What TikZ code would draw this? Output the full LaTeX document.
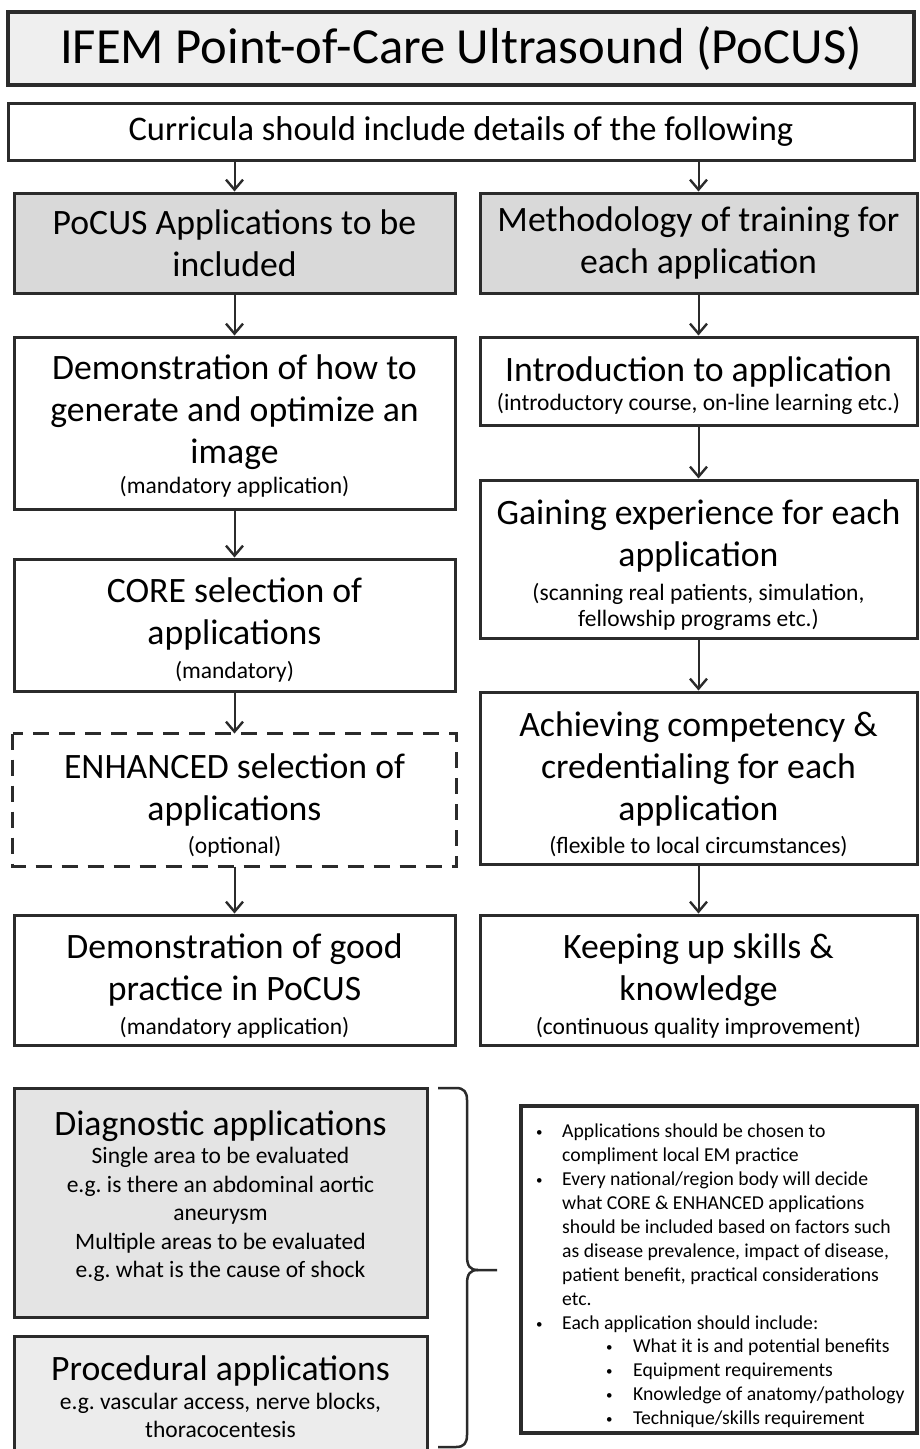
\documentclass[tikz,border=0pt]{standalone}
\usepackage{fontspec}
\setmainfont{Carlito}
\usetikzlibrary{arrows.meta}
\frenchspacing
\definecolor{bordc}{HTML}{2B2B2B}
\definecolor{titlec}{HTML}{EFEFEF}
\definecolor{headc}{HTML}{D9D9D9}
\definecolor{diagc}{HTML}{E4E4E4}
\definecolor{procc}{HTML}{ECECEC}
\newcommand\mysub{\fontsize{23.5}{26.5}\selectfont}
\newcommand\mydiag{\fontsize{23.5}{28.6}\selectfont}
\newcommand\mybul{\raisebox{1pt}{\fontsize{13}{13}\selectfont\textbullet}}
\newcommand\shiftdn[1]{\par\vskip-#1pt\hrule height 0pt width 0pt\relax}
\begin{document}
\begin{tikzpicture}[x=1pt,y=-1pt,
  box/.style={draw=bordc, line width=3pt, inner sep=0pt, align=flush center,
    font=\fontsize{35.7}{42}\selectfont},
  lbox/.style={box, minimum width=441pt, text width=436pt},
  rbox/.style={box, minimum width=437pt, text width=432pt},
  arr/.style={draw=bordc, line width=2pt,
    -{Straight Barb[length=10pt,width=17pt,line width=2.4pt]}},
]
\useasboundingbox (0,0) rectangle (920,1449);
\fill[white] (0,0) rectangle (920,1449);

% header
\node[box, line width=3.5pt, fill=titlec, minimum width=906pt, minimum height=73pt, text width=900pt,
  font=\fontsize{50.6}{56}\selectfont] (title) at (461,48.5) {IFEM Point-of-Care Ultrasound (PoCUS)};
\node[box, minimum width=906pt, minimum height=57pt, text width=900pt,
  font=\fontsize{34.5}{40}\selectfont] (curr) at (461,131.5) {Curricula should include details of the following};

% left column
\node[lbox, fill=headc, minimum height=100pt] (pocus) at (234.5,243) {PoCUS Applications to be\\ included};
\node[lbox, minimum height=172pt] (demo) at (234.5,423) {Demonstration of how to\\ generate and optimize an\\ image\\[4pt] {\mysub (mandatory application)\par}\shiftdn{6}};
\node[lbox, minimum height=132pt] (core) at (234.5,625) {CORE selection of\\ applications\\[7pt] {\mysub (mandatory)\par}\shiftdn{10}};
\node[lbox, draw=none, minimum height=130pt] (enh) at (234.5,800) {ENHANCED selection of\\ applications\\[7pt] {\mysub (optional)\par}\shiftdn{11}};
\draw[bordc, line width=3pt, dash pattern=on 16pt off 10pt] (enh.north west) rectangle (enh.south east);
\node[lbox, minimum height=130pt] (good) at (234.5,980) {Demonstration of good\\ practice in PoCUS\\[7pt] {\mysub (mandatory application)\par}\shiftdn{12}};

% right column
\node[rbox, fill=headc, minimum height=100pt] (meth) at (698.5,243) {Methodology of training for\\ each application};
\node[rbox, minimum height=88pt] (intro) at (698.5,381) {Introduction to application\\[3pt] {\mysub (introductory course, on-line learning etc.)\par}\shiftdn{9}};
\node[rbox, minimum height=158pt] (gain) at (698.5,559) {Gaining experience for each\\ application\\[7pt] {\mysub (scanning real patients, simulation,\\ fellowship programs etc.)\par}\shiftdn{13}};
\node[rbox, minimum height=172pt] (ach) at (698.5,778) {Achieving competency \&\\ credentialing for each\\ application\\[7pt] {\mysub (flexible to local circumstances)\par}\shiftdn{12}};
\node[rbox, minimum height=130pt] (keep) at (698.5,980) {Keeping up skills \&\\ knowledge\\[7pt] {\mysub (continuous quality improvement)\par}\shiftdn{12}};

% connectors
\draw[arr] (curr.south -| pocus.north) -- (pocus.north);
\draw[arr] (curr.south -| meth.north) -- (meth.north);
\draw[arr] (pocus.south) -- (demo.north);
\draw[arr] (demo.south) -- (core.north);
\draw[arr] (core.south) -- (enh.north);
\draw[arr] (enh.south) -- (good.north);
\draw[arr] (meth.south) -- (intro.north);
\draw[arr] (intro.south) -- (gain.north);
\draw[arr] (gain.south) -- (ach.north);
\draw[arr] (ach.south) -- (keep.north);

% bottom left
\node[box, fill=diagc, minimum width=413pt, minimum height=229pt, text width=408pt] (diag) at (220.5,1202.5)
  {Diagnostic applications\\[-1pt] {\mydiag Single area to be evaluated\\ e.g. is there an abdominal aortic\\ aneurysm\\ Multiple areas to be evaluated\\ e.g. what is the cause of shock\par}\shiftdn{-12}};
\node[box, fill=procc, minimum width=413pt, minimum height=122pt, text width=408pt] (proc) at (220.5,1397)
  {Procedural applications\\ {\mydiag e.g. vascular access, nerve blocks,\\ thoracocentesis\par}};

% brace
\coordinate (btip) at (497,1270);
\draw[bordc, line width=2.5pt, line join=round]
  (438,1088) -- (456,1088) .. controls (464,1088) and (467,1092) .. (467,1100)
  -- (467,1256) .. controls (467,1266) and (470,1270) .. (478,1270) -- (btip);
\draw[bordc, line width=2.5pt, line join=round]
  (478,1270) .. controls (470,1270) and (467,1274) .. (467,1284)
  -- (467,1435) .. controls (467,1443) and (464,1447) .. (456,1447) -- (438,1447);

% note box
\node[draw=bordc, line width=4pt, minimum width=396pt, minimum height=327pt, inner sep=0pt] (note) at (719,1269.5) {};
\node[anchor=north west, inner sep=0pt, align=left, font=\fontsize{19.7}{23.9}\selectfont] (notetext) at (536,1124)
  {\makebox[26pt][l]{\mybul}Applications should be chosen to\\
   \hspace*{26pt}compliment local EM practice\\
   \makebox[26pt][l]{\mybul}Every national/region body will decide\\
   \hspace*{26pt}what CORE \& ENHANCED applications\\
   \hspace*{26pt}should be included based on factors such\\
   \hspace*{26pt}as disease prevalence, impact of disease,\\
   \hspace*{26pt}patient benefit, practical considerations\\
   \hspace*{26pt}etc.\\
   \makebox[26pt][l]{\mybul}Each application should include:\\
   \hspace*{70pt}\makebox[27pt][l]{\mybul}What it is and potential benefits\\
   \hspace*{70pt}\makebox[27pt][l]{\mybul}Equipment requirements\\
   \hspace*{70pt}\makebox[27pt][l]{\mybul}Knowledge of anatomy/pathology\\
   \hspace*{70pt}\makebox[27pt][l]{\mybul}Technique/skills requirement};
\end{tikzpicture}
\end{document}
